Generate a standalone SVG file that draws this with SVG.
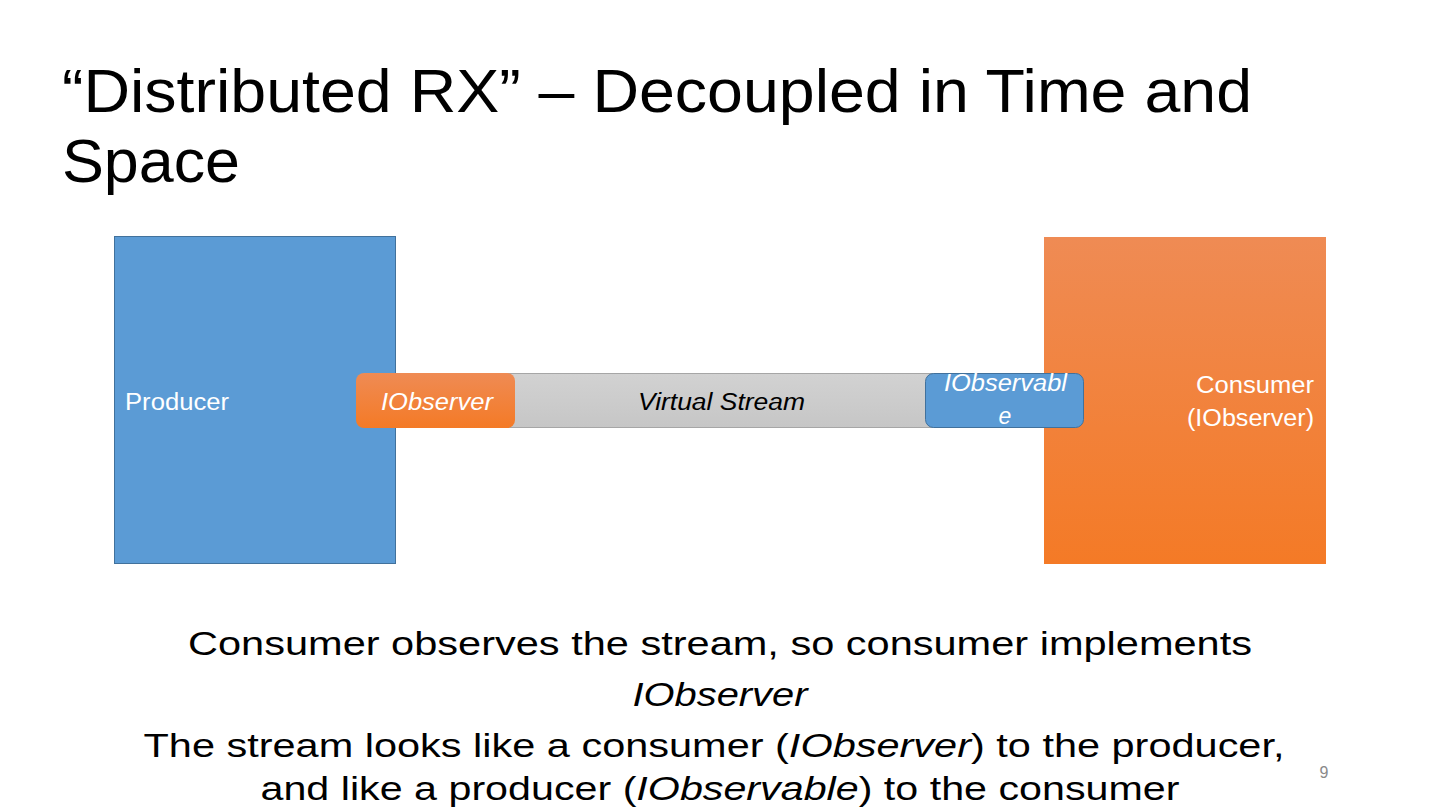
<svg xmlns="http://www.w3.org/2000/svg" width="1440" height="810" viewBox="0 0 1440 810">
<defs>
<linearGradient id="gOrange" x1="0" y1="0" x2="0" y2="1">
<stop offset="0" stop-color="#ef8b54"/>
<stop offset="1" stop-color="#f47a26"/>
</linearGradient>
<linearGradient id="gGray" x1="0" y1="0" x2="0" y2="1">
<stop offset="0" stop-color="#d2d2d2"/>
<stop offset="1" stop-color="#c6c6c6"/>
</linearGradient>
<style>
.f{font-family:"Liberation Sans",Arial,sans-serif}
.title{font-size:62px;fill:#000}
.body{font-size:33px;fill:#000;text-anchor:middle}
.lbl{font-size:23px}
.w{fill:#fff}
.it{font-style:italic}
</style>
</defs>
<rect width="1440" height="810" fill="#fff"/>
<text class="f title" x="62" y="112" textLength="1190" lengthAdjust="spacingAndGlyphs">“Distributed RX” – Decoupled in Time and</text>
<text class="f title" x="62" y="182" textLength="178" lengthAdjust="spacingAndGlyphs">Space</text>

<g id="producer">
<rect x="114.5" y="236.5" width="281" height="327" fill="#5b9bd5" stroke="#41719c" stroke-width="1"/>
<text class="f lbl w" x="125" y="410" textLength="104" lengthAdjust="spacingAndGlyphs">Producer</text>
</g>
<g id="consumer">
<rect x="1044" y="237" width="282" height="327" fill="url(#gOrange)"/>
<text class="f lbl w" x="1196" y="393" textLength="118" lengthAdjust="spacingAndGlyphs">Consumer</text>
<text class="f lbl w" x="1187" y="426" textLength="127" lengthAdjust="spacingAndGlyphs">(IObserver)</text>
</g>
<g id="connectors">
<g id="virtual-stream">
<rect x="470.5" y="373.5" width="490" height="54" fill="url(#gGray)" stroke="#a6a6a6" stroke-width="1"/>
<text class="f lbl it" x="638" y="410" textLength="167" lengthAdjust="spacingAndGlyphs" fill="#000">Virtual Stream</text>
</g>
</g>
<g id="iobserver">
<rect x="356" y="373" width="159" height="55" rx="8" fill="url(#gOrange)"/>
<text class="f lbl w it" x="381" y="410" textLength="112" lengthAdjust="spacingAndGlyphs">IObserver</text>
</g>
<g id="iobservable">
<rect x="925.5" y="373.5" width="158" height="54" rx="8" fill="#5b9bd5" stroke="#41719c" stroke-width="1"/>
<text class="f lbl w it" x="944" y="391" textLength="123" lengthAdjust="spacingAndGlyphs">IObservabl</text>
<text class="f lbl w it" x="1005" y="424" text-anchor="middle">e</text>
</g>

<text class="f body" x="720" y="655" textLength="1064" lengthAdjust="spacingAndGlyphs">Consumer observes the stream, so consumer implements</text>
<text class="f body it" x="720" y="706" textLength="175" lengthAdjust="spacingAndGlyphs">IObserver</text>
<text class="f body" x="714" y="757" textLength="1141" lengthAdjust="spacingAndGlyphs">The stream looks like a consumer (<tspan class="it">IObserver</tspan>) to the producer,</text>
<text class="f body" x="720" y="800" textLength="919" lengthAdjust="spacingAndGlyphs">and like a producer (<tspan class="it">IObservable</tspan>) to the consumer</text>
<text class="f" x="1324" y="778" font-size="16" fill="#8a8a8a" text-anchor="middle">9</text>
</svg>
